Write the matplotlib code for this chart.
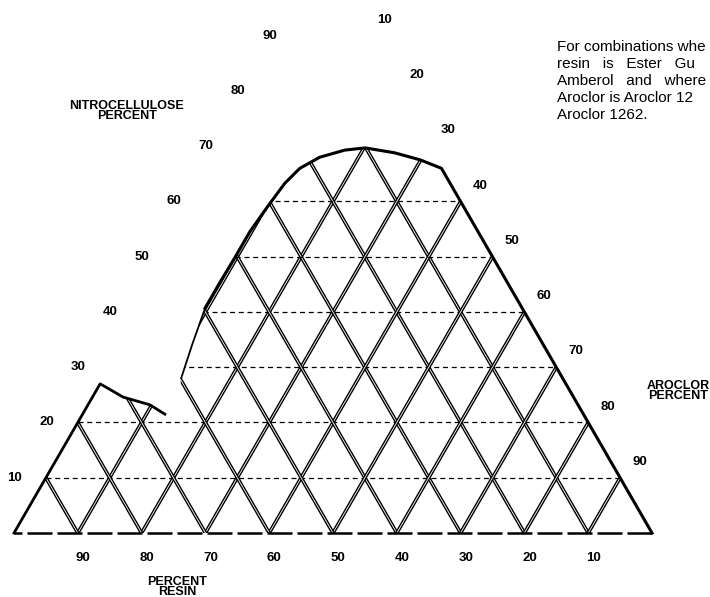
import numpy as np
import matplotlib
matplotlib.use('Agg')
import matplotlib.pyplot as plt
from matplotlib.patches import Polygon

plt.rcParams['font.family'] = ['Liberation Sans', 'DejaVu Sans']

# boundary of the region (percent nitrocellulose, percent aroclor)
nitro_edge = [0, 27, 24.6, 23.2, 21.5, 20, 24.1, 28, 34, 40.7, 45.4, 50, 54.5, 59, 63.3,
              66, 68, 69.3, 69.7, 68.8, 67.5, 66, 0]
aroclor_edge = [0, 0, 4.8, 9.7, 12.9, 15.2, 13.7, 12.2, 10.9, 9.6, 9.6, 9.7, 9.7, 10.2, 10.8,
                11.8, 13.9, 17.2, 20.2, 25.3, 30, 34, 100]

ticks = [10, 20, 30, 40, 50, 60, 70, 80, 90]

# the note is cut off at the right edge of the scan
note = ["For combinations whe",
        "resin   is   Ester   Gu",
        "Amberol   and   where",
        "Aroclor is Aroclor 12",
        "Aroclor 1262."]

H = np.sqrt(3) / 2


def tern(n, a):
    # n = nitrocellulose, a = aroclor (percent) -> cartesian
    n = np.asarray(n) / 100.0
    a = np.asarray(a) / 100.0
    return a + n / 2, n * H


fig = plt.figure(figsize=(7.1, 5.97), dpi=100)
ax = fig.add_axes([0, 0, 1, 1])
ax.set_xlim(-14 / 638, 696 / 638)
ax.set_ylim(-64 / 638, 533 / 638)
ax.axis('off')

bx, by = tern(nitro_edge, aroclor_edge)
region = Polygon(np.column_stack([bx, by]), closed=True, facecolor='none',
                 edgecolor='none', transform=ax.transData)
ax.add_patch(region)

# grid lines, only inside the region
for t in ticks:
    # constant nitrocellulose (horizontal)
    x, y = tern([t, t], [0, 100 - t])
    ln, = ax.plot(x, y, color='black', lw=0.9, ls=(0, (4, 3)))
    ln.set_clip_path(region)
    # constant aroclor
    x, y = tern([0, 100 - t], [t, t])
    for lw, c in [(2.6, 'black'), (0.6, 'white')]:
        ln, = ax.plot(x, y, color=c, lw=lw)
        ln.set_clip_path(region)
    # constant resin
    x, y = tern([0, 100 - t], [100 - t, 0])
    for lw, c in [(2.6, 'black'), (0.6, 'white')]:
        ln, = ax.plot(x, y, color=c, lw=lw)
        ln.set_clip_path(region)

# outline (open where the two parts come close)
ax.plot(bx[:5], by[:5], color='black', lw=2.0)
ax.plot(bx[7:10], by[7:10], color='black', lw=1.3)
ax.plot(bx[9:], by[9:], color='black', lw=2.2)
ax.plot([bx[-1], bx[0]], [by[-1], by[0]], color='black', lw=1.8, ls=(0, (10, 2)))

# tick labels
fs = 9.5
for t in ticks:
    x, y = tern(t, 0)
    ax.text(x - 0.049, y, str(t), ha='center', va='center', fontsize=fs, fontweight='bold')
    x, y = tern(100 - t, t)
    ax.text(x + 0.031, y + 0.025, str(t), ha='center', va='center', fontsize=fs, fontweight='bold')
    x, y = tern(0, 100 - t)
    ax.text(x + 0.008, y - 0.039, str(t), ha='center', va='center', fontsize=fs, fontweight='bold')

ax.text((127 - 14) / 638, (533 - 111) / 638, 'NITROCELLULOSE\nPERCENT', ha='center', va='center',
        fontsize=9, fontweight='bold', linespacing=0.8)
ax.text((678 - 14) / 638, (533 - 391) / 638, 'AROCLOR\nPERCENT', ha='center', va='center',
        fontsize=9, fontweight='bold', linespacing=0.8)
ax.text((177 - 14) / 638, (533 - 587) / 638, 'PERCENT\nRESIN', ha='center', va='center',
        fontsize=9, fontweight='bold', linespacing=0.8)

for i, line in enumerate(note):
    ax.text((557 - 14) / 638, (533 - 47 - 17 * i) / 638, line, ha='left', va='center',
            fontsize=11)

fig.savefig('out.png', dpi=100)
